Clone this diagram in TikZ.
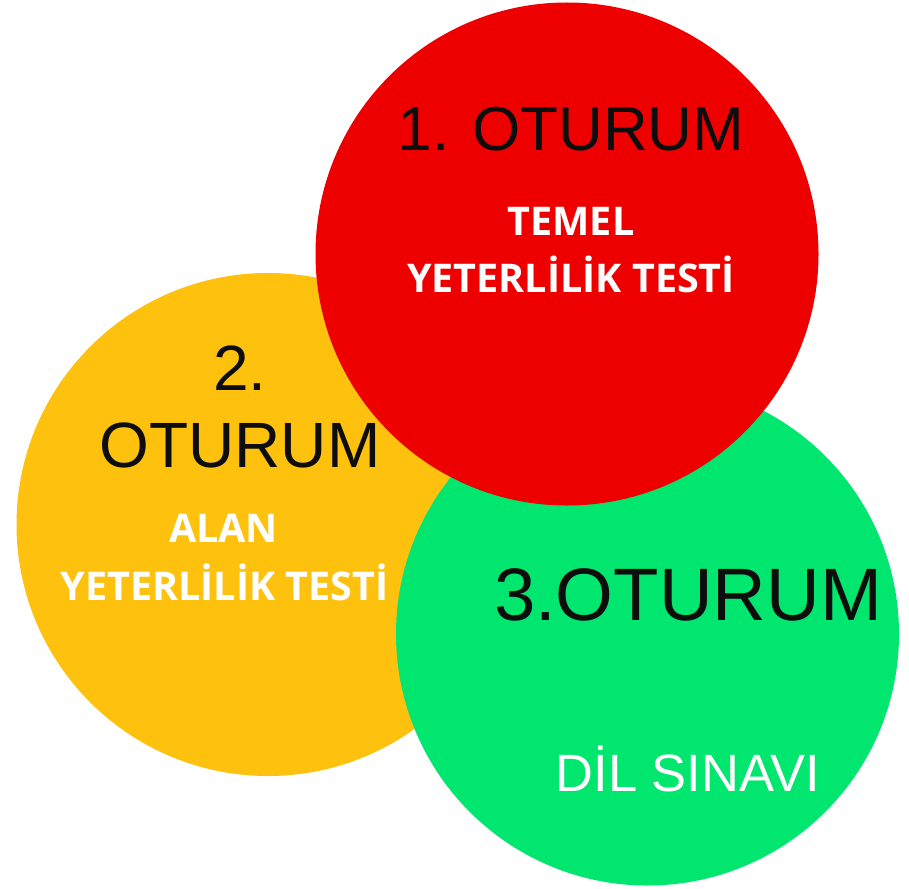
\documentclass[tikz,border=0pt]{standalone}
\usepackage{fontspec}
\setmainfont{Liberation Sans}
\newfontfamily\boldsans{Open Sans}
\definecolor{cred}{RGB}{238,0,0}
\definecolor{cyellow}{RGB}{254,194,14}
\definecolor{cgreen}{RGB}{0,230,110}
\definecolor{ctext}{RGB}{13,13,13}
\tikzset{
  disc/.style={circle, minimum size=503pt, inner sep=0pt, draw=none},
  title/.style={anchor=base, text=ctext, inner sep=0pt, font=\fontsize{64}{64}\selectfont},
  sub/.style={anchor=base, text=white, inner sep=0pt, font=\boldsans\bfseries\fontsize{39.5}{39.5}\selectfont},
}
\begin{document}
\begin{tikzpicture}[x=1pt,y=-1pt]
\useasboundingbox (0,0) rectangle (909,888);
\node[disc, fill=cyellow] (yc) at (268,524.5) {};
\node[disc, fill=cgreen] (gc) at (647.5,634) {};
\node[disc, fill=cred] (rc) at (567,254) {};
% red
\node[title, font=\fontsize{62}{62}\selectfont] (t1) at (571,150) {1. OTURUM};
\node[sub] (s1a) at (571,235) {TEMEL};
\node[sub] (s1b) at (571,292) {YETERLİLİK TESTİ};
% yellow
\node[title] (t2a) at (240,390) {2.};
\node[title] (t2b) at (240,467) {OTURUM};
\node[sub] (s2a) at (223.5,542) {ALAN};
\node[sub] (s2b) at (224.5,600) {YETERLİLİK TESTİ};
% green
\node[title, font=\fontsize{74.3}{74.3}\selectfont] (t3) at (688,620) {3.OTURUM};
\node[anchor=base, text=white, inner sep=0pt, font=\fontsize{52.5}{52.5}\selectfont] (s3) at (688,791) {DİL SINAVI};
\end{tikzpicture}
\end{document}
